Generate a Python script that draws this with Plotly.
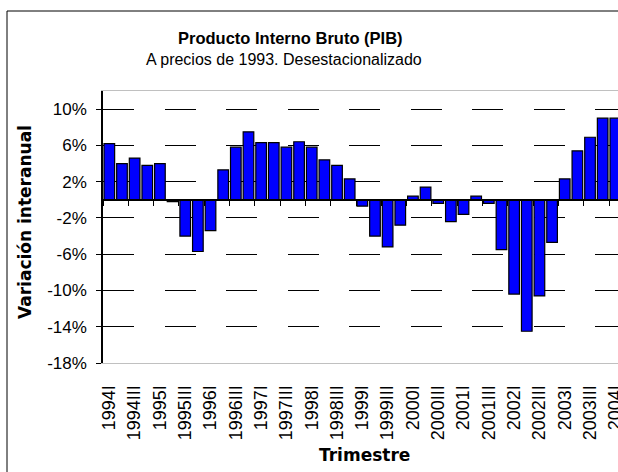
import plotly.graph_objects as go

# ---------------- data ----------------
years = ["1994", "1995", "1996", "1997", "1998", "1999", "2000", "2001", "2002", "2003", "2004"]
quarters = ["I", "II", "III", "IV"]
categories = [y + q for y in years for q in quarters][:41]

values = [
    6.2, 4.0, 4.6, 3.8,      # 1994
    4.0, -0.2, -4.0, -5.7,   # 1995
    -3.4, 3.3, 5.8, 7.5,     # 1996
    6.3, 6.3, 5.8, 6.4,      # 1997
    5.8, 4.4, 3.8, 2.3,      # 1998
    -0.7, -4.0, -5.2, -2.8,  # 1999
    0.4, 1.4, -0.4, -2.4,    # 2000
    -1.6, 0.4, -0.4, -5.5,   # 2001
    -10.4, -14.5, -10.6, -4.7,  # 2002
    2.3, 5.4, 6.9, 9.0,      # 2003
    9.0,                     # 2004
]

x_ticks = categories[::2]
y_tickvals = [10, 6, 2, -2, -6, -10, -14, -18]
y_ticktext = ["10%", "6%", "2%", "-2%", "-6%", "-10%", "-14%", "-18%"]

title_text = "Producto Interno Bruto (PIB)"
subtitle_text = "A precios de 1993. Desestacionalizado"
y_title = "Variación interanual"
x_title = "Trimestre"

# ---------------- layout geometry ----------------
W, H = 618, 472
L, R, T, B = 103, 0, 91, 109
PW, PH = W - L - R, H - T - B
Y_MIN, Y_MAX = -18, 12
pitch = 12.65
x_range = [-0.5, -0.5 + PW / pitch]


def px(xp):
    return (xp - L) / PW


def py(yp):
    return 1 - (yp - T) / PH


fig = go.Figure()
fig.add_trace(go.Bar(
    x=categories, y=values,
    marker=dict(color="#0000FF", line=dict(color="black", width=1.2)),
    xaxis="x", yaxis="y", showlegend=False, hoverinfo="x+y",
))
# invisible trace to give the zero-crossing axis its categories
fig.add_trace(go.Scatter(
    x=categories, y=[None] * len(categories), xaxis="x2", yaxis="y",
    mode="markers", showlegend=False, hoverinfo="skip",
))

zero_pos = (0 - Y_MIN) / (Y_MAX - Y_MIN)

fig.update_layout(
    width=W, height=H,
    margin=dict(l=L, r=R, t=T, b=B, autoexpand=False),
    paper_bgcolor="white", plot_bgcolor="white",
    bargap=0.16,
    font=dict(family="Liberation Sans, Arial, sans-serif", color="black"),
    xaxis=dict(
        type="category", range=x_range, automargin=False,
        tickmode="array", tickvals=x_ticks, ticktext=x_ticks,
        tickangle=-90, ticks="", ticklabelstandoff=14,
        tickfont=dict(size=18, family="Liberation Sans, Arial, sans-serif"),
        showline=True, linecolor="#c0c0c0", linewidth=1, mirror=True,
        showgrid=False, zeroline=False,
    ),
    xaxis2=dict(
        type="category", range=x_range, overlaying="x", automargin=False,
        anchor="free", position=zero_pos, side="bottom",
        showticklabels=False, ticks="outside", tickson="boundaries",
        ticklen=5, tickcolor="black", tickwidth=1,
        showline=True, linecolor="black", linewidth=1.5,
        showgrid=False, zeroline=False,
    ),
    yaxis=dict(
        range=[Y_MIN, Y_MAX], automargin=False,
        tickmode="array", tickvals=y_tickvals, ticktext=y_ticktext,
        ticks="outside", ticklen=5, tickcolor="black", tickwidth=1,
        ticklabelstandoff=6,
        tickfont=dict(size=17, family="Liberation Sans, Arial, sans-serif"),
        showline=True, linecolor="black", linewidth=1.5,
        showgrid=True, gridcolor="black", gridwidth=1, griddash="31px,30.5px",
        zeroline=False,
    ),
    shapes=[
        dict(type="line", xref="paper", yref="paper",
             x0=px(7), x1=px(700), y0=py(11), y1=py(11),
             line=dict(color="black", width=1)),
        dict(type="line", xref="paper", yref="paper",
             x0=px(7), x1=px(7), y0=py(11), y1=py(520),
             line=dict(color="black", width=1)),
    ],
    annotations=[
        dict(text="<b>" + title_text + "</b>", xref="paper", yref="paper",
             x=px(290), y=py(38), showarrow=False, xanchor="center", yanchor="middle",
             font=dict(size=16.5, family="Liberation Sans, Arial, sans-serif")),
        dict(text=subtitle_text, xref="paper", yref="paper",
             x=px(284), y=py(60), showarrow=False, xanchor="center", yanchor="middle",
             font=dict(size=16, family="Liberation Sans, Arial, sans-serif")),
        dict(text="<b>" + y_title + "</b>", xref="paper", yref="paper",
             x=px(25), y=py(222), showarrow=False, xanchor="center", yanchor="middle",
             textangle=-90,
             font=dict(size=17, family="DejaVu Sans, sans-serif")),
        dict(text="<b>" + x_title + "</b>", xref="paper", yref="paper",
             x=px(364), y=py(455), showarrow=False, xanchor="center", yanchor="middle",
             font=dict(size=17, family="DejaVu Sans, sans-serif")),
    ],
)

post = ("document.body.style.margin='0';document.body.style.padding='0';"
        "document.body.style.overflow='hidden';"
        "document.documentElement.style.overflow='hidden';")
fig.write_html("out.html", post_script=post, config={"displayModeBar": False})
